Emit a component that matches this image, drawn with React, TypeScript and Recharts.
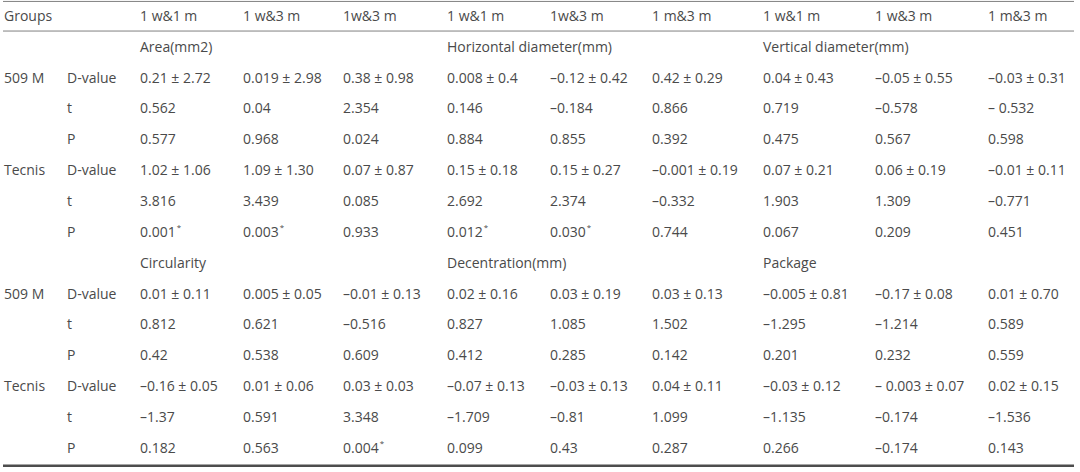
import React from "react";
import { ScatterChart, Scatter, XAxis, YAxis, ReferenceLine } from "recharts";

// header + section titles
const headers = ["Groups", "", "1 w&1 m", "1 w&3 m", "1w&3 m", "1 w&1 m", "1w&3 m", "1 m&3 m", "1 w&1 m", "1 w&3 m", "1 m&3 m"];
const section1 = ["Area(mm2)", "Horizontal diameter(mm)", "Vertical diameter(mm)"];
const section2 = ["Circularity", "Decentration(mm)", "Package"];
const groups = ["509 M", "Tecnis"];
const stats = ["D-value", "t", "P"];

// section 1: area / horizontal / vertical
const m509D1 = ["0.21 ± 2.72", "0.019 ± 2.98", "0.38 ± 0.98", "0.008 ± 0.4", "–0.12 ± 0.42", "0.42 ± 0.29", "0.04 ± 0.43", "–0.05 ± 0.55", "–0.03 ± 0.31"];
const m509T1 = ["0.562", "0.04", "2.354", "0.146", "–0.184", "0.866", "0.719", "–0.578", "– 0.532"];
const m509P1 = ["0.577", "0.968", "0.024", "0.884", "0.855", "0.392", "0.475", "0.567", "0.598"];
const tecD1 = ["1.02 ± 1.06", "1.09 ± 1.30", "0.07 ± 0.87", "0.15 ± 0.18", "0.15 ± 0.27", "–0.001 ± 0.19", "0.07 ± 0.21", "0.06 ± 0.19", "–0.01 ± 0.11"];
const tecT1 = ["3.816", "3.439", "0.085", "2.692", "2.374", "–0.332", "1.903", "1.309", "–0.771"];
const tecP1 = ["0.001*", "0.003*", "0.933", "0.012*", "0.030*", "0.744", "0.067", "0.209", "0.451"];

// section 2: circularity / decentration / package
const m509D2 = ["0.01 ± 0.11", "0.005 ± 0.05", "–0.01 ± 0.13", "0.02 ± 0.16", "0.03 ± 0.19", "0.03 ± 0.13", "–0.005 ± 0.81", "–0.17 ± 0.08", "0.01 ± 0.70"];
const m509T2 = ["0.812", "0.621", "–0.516", "0.827", "1.085", "1.502", "–1.295", "–1.214", "0.589"];
const m509P2 = ["0.42", "0.538", "0.609", "0.412", "0.285", "0.142", "0.201", "0.232", "0.559"];
const tecD2 = ["–0.16 ± 0.05", "0.01 ± 0.06", "0.03 ± 0.03", "–0.07 ± 0.13", "–0.03 ± 0.13", "0.04 ± 0.11", "–0.03 ± 0.12", "– 0.003 ± 0.07", "0.02 ± 0.15"];
const tecT2 = ["–1.37", "0.591", "3.348", "–1.709", "–0.81", "1.099", "–1.135", "–0.174", "–1.536"];
const tecP2 = ["0.182", "0.563", "0.004*", "0.099", "0.43", "0.287", "0.266", "–0.174", "0.143"];

// table rules, in row units
const rules = [-0.47, 0.49, 14.58];

// layout: left edge of each column in px
const COL_X = [4, 67, 140, 243, 343, 447, 550, 652, 763, 875, 988];
const TEXT = "#4a4a4a";

type Cell = { x: number; y: number; text: string };

function buildCells(): Cell[] {
  const cells: Cell[] = [];
  headers.forEach((h, i) => h && cells.push({ x: COL_X[i], y: 0, text: h }));
  const blocks = [
    { titles: section1, row: 1, groupsData: [[m509D1, m509T1, m509P1], [tecD1, tecT1, tecP1]] },
    { titles: section2, row: 8, groupsData: [[m509D2, m509T2, m509P2], [tecD2, tecT2, tecP2]] },
  ];
  blocks.forEach((b) => {
    b.titles.forEach((t, i) => cells.push({ x: COL_X[2 + i * 3], y: b.row, text: t }));
    b.groupsData.forEach((g, gi) => {
      const base = b.row + 1 + gi * 3;
      cells.push({ x: COL_X[0], y: base, text: groups[gi] });
      g.forEach((vals, si) => {
        cells.push({ x: COL_X[1], y: base + si, text: stats[si] });
        vals.forEach((v, ci) => cells.push({ x: COL_X[2 + ci], y: base + si, text: v }));
      });
    });
  });
  return cells;
}

const cells = buildCells();

const CellText = (props: any) => {
  const { cx, cy, payload } = props;
  const star = payload.text.endsWith("*");
  const txt = star ? payload.text.slice(0, -1) : payload.text;
  return (
    <text x={cx} y={cy} dy={5} fill={TEXT} fontSize={14} fontFamily="'Open Sans', sans-serif" textAnchor="start">
      {txt}
      {star && (
        <tspan dy={-7} dx={1} fontSize={8}>
          *
        </tspan>
      )}
    </text>
  );
};

export default function App() {
  return (
    <div style={{ background: "#fff", width: 1080, height: 472 }}>
      <style>{`body{margin:0}`}</style>
      <ScatterChart width={1080} height={472} margin={{ top: 0.5, right: 6, bottom: 1, left: 3 }}>
        <XAxis type="number" dataKey="x" domain={[3, 1074]} allowDataOverflow hide />
        <YAxis type="number" dataKey="y" domain={[-0.5, 14.75]} allowDataOverflow reversed hide />
        {rules.map((r, i) => (
          <ReferenceLine
            key={i}
            y={r}
            ifOverflow="visible"
            stroke={i === 2 ? "#4d4d4d" : "#808080"}
            strokeWidth={i === 2 ? 2.5 : 1}
          />
        ))}
        <Scatter data={cells} shape={CellText} isAnimationActive={false} />
      </ScatterChart>
    </div>
  );
}
